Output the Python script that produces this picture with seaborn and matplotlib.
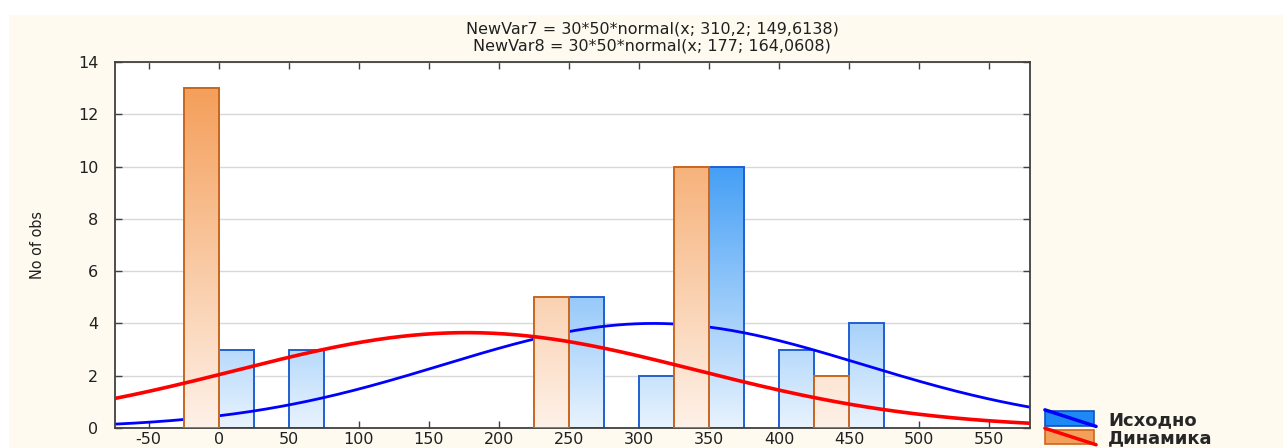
import numpy as np
import pandas as pd
import matplotlib
matplotlib.use("Agg")
import matplotlib.pyplot as plt
import seaborn as sns
from matplotlib.colors import LinearSegmentedColormap
from matplotlib.patches import Rectangle
from matplotlib.lines import Line2D
from matplotlib.legend_handler import HandlerBase

# ---- data ----
bins_isx = [0, 50, 250, 300, 350, 400, 450]
counts_isx = [3, 3, 5, 2, 10, 3, 4]
bins_dyn = [0, 250, 350, 450]
counts_dyn = [13, 5, 10, 2]
mean_isx, sd_isx = 310.2, 149.6138
mean_dyn, sd_dyn = 177.0, 164.0608
n_obs, bin_width = 30, 50
label_isx = "Исходно"
label_dyn = "Динамика"
title_lines = ["NewVar7 = 30*50*normal(x; 310,2; 149,6138)",
               "NewVar8 = 30*50*normal(x; 177; 164,0608)"]
x_ticks = list(range(-50, 551, 50))
y_ticks = list(range(0, 15, 2))

sns.set_theme(style="white")
plt.rcParams['font.family'] = ['DejaVu Sans']

W, H = 1283, 448
fig = plt.figure(figsize=(W / 100, H / 100), dpi=100, facecolor="white")
fig.patches.append(Rectangle((9 / W, 0), 1, 1 - 15 / H, transform=fig.transFigure,
                             facecolor="#FEFAF0", edgecolor="none", zorder=-10))
ax = fig.add_axes([115 / W, 1 - 428 / H, (1030 - 115) / W, (428 - 62) / H])
ax.set_facecolor("white")

df = pd.DataFrame({
    "bin": bins_dyn + bins_isx,
    "count": counts_dyn + counts_isx,
    "series": [label_dyn] * len(bins_dyn) + [label_isx] * len(bins_isx),
})
ORANGE = "#F5A05A"
BLUE = "#3D9BF5"
sns.barplot(data=df, x="bin", y="count", hue="series", hue_order=[label_dyn, label_isx],
            palette={label_dyn: ORANGE, label_isx: BLUE}, native_scale=True, dodge=True,
            width=1.0, saturation=1, ax=ax, legend=False)

cmap_dyn = LinearSegmentedColormap.from_list("dyn", ["#FEF1E8", "#F49C55"])
cmap_isx = LinearSegmentedColormap.from_list("isx", ["#E8F3FE", "#3D9BF5"])
for p in list(ax.patches):
    x0, w, h = p.get_x(), p.get_width(), p.get_height()
    if h <= 0:
        continue
    center = x0 + w / 2
    # the Динамика bar sits left of its bin centre, Исходно right of it
    is_dyn = ((center / bin_width) - np.round(center / bin_width)) < 0
    zb = 3.0 if is_dyn else 2.0
    cmap = cmap_dyn if is_dyn else cmap_isx
    vmax = 13.5 if is_dyn else 10.5
    ax.imshow(np.linspace(0, h, 200).reshape(-1, 1), extent=[x0, x0 + w, 0, h],
              origin="lower", cmap=cmap, vmin=0, vmax=vmax, aspect="auto",
              interpolation="bilinear", zorder=zb)
    p.set_facecolor("none")
    p.set_edgecolor("#C8661E" if is_dyn else "#2060D0")
    p.set_linewidth(1.4)
    p.set_zorder(zb + 0.1)

xs = np.linspace(-75, 580, 400)
def fitted(m, s):
    return n_obs * bin_width * np.exp(-0.5 * ((xs - m) / s) ** 2) / (s * np.sqrt(2 * np.pi))

sns.lineplot(x=xs, y=fitted(mean_isx, sd_isx), color="#0000FF", lw=2.0, ax=ax, zorder=2.5)
sns.lineplot(x=xs, y=fitted(mean_dyn, sd_dyn), color="#FF0000", lw=2.6, ax=ax, zorder=4)

ax.set_xlim(-74, 579)
ax.set_ylim(0, 14)
ax.set_xticks(x_ticks)
ax.set_yticks(y_ticks)
ax.set_xticklabels([str(v) for v in x_ticks])
ax.set_yticklabels([str(v) for v in y_ticks])
ax.yaxis.grid(True, color="#D8D8D8", lw=1.0, zorder=0)
ax.set_axisbelow(True)
ax.tick_params(direction="in", top=True, right=True, bottom=True, left=True,
               length=5, width=1.0, color="#404040", labelsize=11.5,
               labelcolor="#202020")
ax.tick_params(axis="y", pad=12)
ax.tick_params(axis="x", pad=3)
for s in ax.spines.values():
    s.set_visible(True)
    s.set_color("#404040")
    s.set_linewidth(1.3)
ax.set_xlabel("")
ax.set_ylabel("")
fig.text(38 / W, 1 - 245 / H, "No of obs", rotation=90, ha="center", va="center",
         fontsize=11.5, fontstretch="condensed", family=["DejaVu Sans"], color="#202020")

fig.text(652 / W, 1 - 29 / H, title_lines[0], ha="center", va="center", fontsize=11.5, color="#202020")
fig.text(652 / W, 1 - 46 / H, title_lines[1], ha="center", va="center", fontsize=11.5, color="#202020")


class PatchLineHandler(HandlerBase):
    def __init__(self, face, edge, line):
        super().__init__()
        self.face, self.edge, self.line = face, edge, line

    def create_artists(self, legend, orig_handle, xdescent, ydescent, width, height, fontsize, trans):
        r = Rectangle((-xdescent, -ydescent), width, height, facecolor=self.face,
                      edgecolor=self.edge, lw=1.2, transform=trans)
        l = Line2D([-xdescent, -xdescent + width * 1.05], [-ydescent + height * 1.1, -ydescent - height * 0.05],
                   color=self.line, lw=2.5, transform=trans)
        return [r, l]


h1 = Rectangle((0, 0), 1, 1)
h2 = Rectangle((0, 0), 1, 1)
leg = fig.legend([h1, h2], [label_isx, label_dyn], loc="lower left",
                 bbox_to_anchor=(1044 / W, 0.0), frameon=False, borderaxespad=0.0, borderpad=0.05,
                 handler_map={h1: PatchLineHandler("#1E88F5", "#1050C0", "#0000FF"),
                              h2: PatchLineHandler("#F5A05A", "#C8661E", "#FF0000")},
                 handlelength=2.7, handleheight=0.85, labelspacing=0.02, handletextpad=0.8,
                 prop={"weight": "bold", "size": 13})

fig.savefig("out.png", dpi=100, facecolor=fig.get_facecolor())
